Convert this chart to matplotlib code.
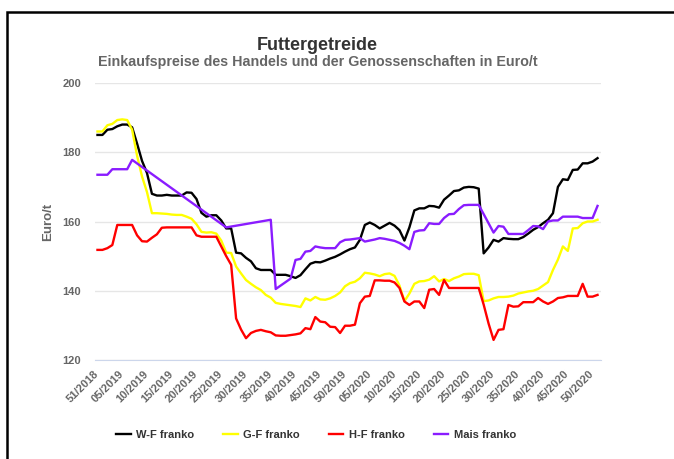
import numpy as np
import matplotlib.pyplot as plt
from matplotlib.patches import Rectangle

plt.rcParams['font.family'] = ['Liberation Sans', 'DejaVu Sans']

# week labels (every 5th week on the axis)
tick_labels = ['51/2018'] + ['%02d/2019' % w for w in range(5, 51, 5)] + \
              ['%02d/2020' % w for w in range(5, 51, 5)]

# Euro/t, one value per week starting 51/2018
wf = [185, 185, 186.5, 186.7, 187.5, 188, 188, 187.2, 182.5, 177.5,
      174, 168, 167.5, 167.5, 167.7, 167.5, 167.5, 167.5, 168.4, 168.3,
      166.5, 162.5, 161.4, 161.8, 161.8, 160.3, 158, 158, 151, 150.8,
      149.5, 148.5, 146.5, 146, 146, 146, 144.6, 144.6, 144.6, 144.2,
      143.7, 144.5, 146.2, 147.8, 148.3, 148.2, 148.7, 149.3, 149.8, 150.5,
      151.3, 152, 152.5, 154.7, 159, 159.7, 159, 158, 158.8, 159.6,
      158.8, 157.5, 154.5, 158.3, 163.2, 163.8, 163.8, 164.5, 164.4, 164,
      166.3, 167.5, 168.8, 169, 169.8, 170, 169.9, 169.5, 150.8, 152.5,
      154.7, 154.2, 155.2, 155, 154.9, 154.9, 155.5, 156.5, 157.6, 158.4,
      159.5, 160.5, 162.4, 170, 172.2, 172, 174.9, 175, 176.8, 176.8,
      177.3, 178.3]

gf = [186, 186, 187.8, 188.2, 189.3, 189.5, 189.3, 186.5, 179, 173,
      168.5, 162.4, 162.4, 162.3, 162.2, 162, 161.9, 161.9, 161.4, 160.8,
      159.2, 157, 156.8, 156.9, 156.5, 154.5, 151, 150.9, 147, 145,
      143.1, 142, 141, 140.2, 138.8, 138, 136.5, 136.2, 136, 135.8,
      135.6, 135.3, 137.8, 137.2, 138.2, 137.5, 137.4, 137.8, 138.5, 139.5,
      141.3, 142.2, 142.6, 143.6, 145.2, 145, 144.7, 144.2, 144.8, 145,
      144.3, 141.5, 137, 139.2, 142, 142.7, 142.8, 143.2, 144.2, 142.7,
      143.4, 142.8, 143.6, 144.1, 144.8, 144.9, 144.9, 144.5, 137, 137.2,
      137.8, 138.2, 138.2, 138.3, 138.6, 139.2, 139.5, 139.8, 140, 140.5,
      141.5, 142.5, 146, 149, 152.8, 151.5, 158, 158.1, 159.5, 160,
      160, 160.5]

hf = [151.8, 151.8, 152.3, 153.2, 159, 159, 159, 159, 156, 154.3,
      154.2, 155.3, 156.3, 158.2, 158.3, 158.3, 158.3, 158.3, 158.3, 158.3,
      156, 155.6, 155.6, 155.6, 155.6, 152.8, 150, 147.5, 132, 128.8,
      126.3, 127.8, 128.4, 128.7, 128.3, 128, 127.1, 127, 127, 127.2,
      127.4, 127.7, 129.2, 128.9, 132.4, 131.1, 130.9, 129.6, 129.5, 127.8,
      129.9, 129.9, 130.2, 136.4, 138.3, 138.5, 143, 143, 142.9, 142.9,
      142.4, 140.8, 136.9, 135.9, 136.9, 136.9, 135, 140.3, 140.5, 138.8,
      143.1, 140.8, 140.8, 140.8, 140.8, 140.8, 140.8, 140.8, 136, 130.5,
      125.8, 128.7, 128.9, 135.9, 135.4, 135.5, 136.7, 136.7, 136.7, 137.9,
      136.9, 136.2, 136.9, 137.9, 138.1, 138.5, 138.5, 138.5, 142, 138.3,
      138.3, 138.8]

# None = no quote that week (line joins the neighbours)
mais = [173.5, 173.5, 173.5, 175.1, 175.1, 175.1, 175.1, 177.8, None, None,
        None, None, None, None, None, None, None, None, None, None,
        None, None, None, None, None, None, 158.3, None, None, None,
        None, None, None, None, None, 160.5, 140.5, None, None, 143.5,
        148.9, 149.2, 151.3, 151.5, 152.8, 152.5, 152.3, 152.3, 152.3, 154,
        154.7, 154.8, 155, 155.2, 154.2, 154.5, 154.8, 155.2, 155, 154.7,
        154.4, 153.8, 153, 152, 157, 157.4, 157.5, 159.5, 159.3, 159.3,
        161, 162.1, 162.2, 163.6, 164.7, 164.8, 164.8, 164.8, None, None,
        156.8, 158.7, 158.5, 156.4, 156.4, 156.4, 156.4, 157.5, 158.7, 158.6,
        157.8, 160, 160.3, 160.3, 161.4, 161.4, 161.4, 161.4, 161, 161,
        161, 164.5]

series = [('W-F franko', wf, '#000000'),
          ('G-F franko', gf, '#ffff00'),
          ('H-F franko', hf, '#ff0000'),
          ('Mais franko', mais, '#8a1cff')]

fig = plt.figure(figsize=(6.74, 4.59), dpi=100)
ax = fig.add_axes([95 / 674, 1 - 360 / 459, 506 / 674, 277 / 459])

for name, vals, col in series:
    x = np.array([i for i, v in enumerate(vals) if v is not None])
    y = np.array([v for v in vals if v is not None])
    ax.plot(x, y, color=col, lw=1.7, label=name, solid_joinstyle='round')

ax.set_xlim(-0.5, 101.7)
ax.set_ylim(120, 200)
ax.set_yticks([120, 140, 160, 180, 200])
ax.set_xticks(np.arange(0, 101, 5))
ax.set_xticklabels(tick_labels, rotation=45, ha='right', va='center',
                   rotation_mode='anchor')
ax.tick_params(axis='both', length=0, labelcolor='#666666', labelsize=8)
ax.tick_params(axis='y', pad=10)
ax.tick_params(axis='x', pad=9)
for lab in ax.get_xticklabels() + ax.get_yticklabels():
    lab.set_fontweight('bold')

ax.grid(axis='y', color='#e6e6e6', lw=1)
ax.set_axisbelow(True)
for s in ['top', 'right', 'left']:
    ax.spines[s].set_visible(False)
ax.spines['bottom'].set_color('#ccd6eb')
ax.spines['bottom'].set_zorder(0.5)

ax.set_ylabel('Euro/t', fontsize=9.5, fontweight='bold', color='#666666',
              labelpad=6)

fig.text(317 / 674, 1 - 45 / 459, 'Futtergetreide', ha='center', va='center',
         fontsize=13, fontweight='bold', color='#333333')
fig.text(318 / 674, 1 - 62 / 459,
         'Einkaufspreise des Handels und der Genossenschaften in Euro/t',
         ha='center', va='center', fontsize=10.3, fontweight='bold',
         color='#666666')

fig.legend(loc='center', bbox_to_anchor=(316 / 674, 1 - 435 / 459), ncol=4,
           frameon=False, handlelength=1.3, handletextpad=0.5,
           columnspacing=2.6, prop={'weight': 'bold', 'size': 8},
           labelcolor='#333333')

# black frame round the chart (cut off on the right and bottom)
fig.add_artist(Rectangle((7 / 674, -0.2), 1.2, 1.2 - 12 / 459,
                         transform=fig.transFigure, fill=False,
                         edgecolor='black', lw=1.8))

fig.savefig('out.png', dpi=100)
